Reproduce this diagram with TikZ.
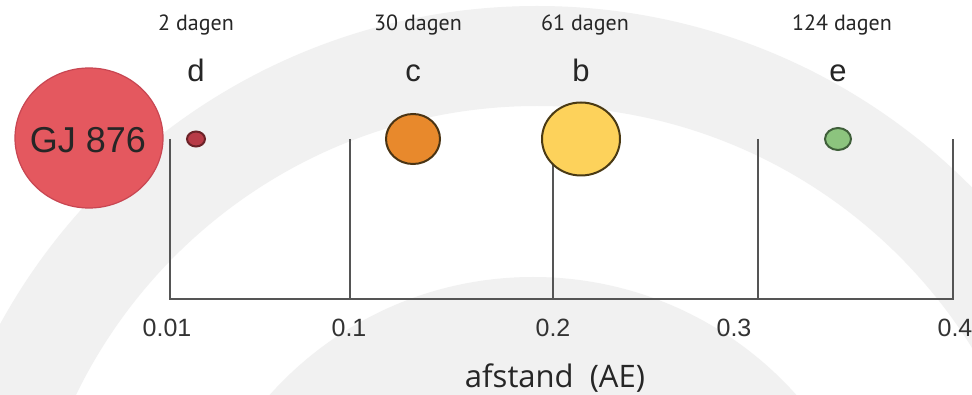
\documentclass[tikz,border=0pt]{standalone}
\usepackage{fontspec}
\setmainfont{Liberation Sans}
\newfontfamily\dagenfont{PT Sans}
\newfontfamily\afstandfont{Open Sans}
\usepackage{tikz}
\usetikzlibrary{positioning,shapes.geometric,calc}
\definecolor{bandgray}{RGB}{241,241,241}
\definecolor{axisgray}{RGB}{85,85,85}
\definecolor{starfill}{RGB}{228,88,95}
\definecolor{stardraw}{RGB}{200,70,82}
\definecolor{dfill}{RGB}{184,59,71}
\definecolor{ddraw}{RGB}{107,34,40}
\definecolor{cfill}{RGB}{232,137,44}
\definecolor{cdraw}{RGB}{74,52,20}
\definecolor{bfill}{RGB}{253,210,91}
\definecolor{bdraw}{RGB}{74,58,20}
\definecolor{efill}{RGB}{140,196,126}
\definecolor{edraw}{RGB}{63,95,58}
\tikzset{
    axisline/.style={draw=axisgray, line width=2pt},
    planet/.style={ellipse, line width=2pt, inner sep=0pt},
    ticklabel/.style={anchor=base, text=black!80, font=\fontsize{25}{25}\selectfont},
    planetname/.style={anchor=base, text=black!85, font=\fontsize{31}{31}\selectfont},
    period/.style={anchor=base, text=black!85, font=\dagenfont\fontsize{22}{22}\selectfont},
}

\begin{document}
\begin{tikzpicture}[x=1pt, y=-1pt]
    \useasboundingbox (0,0) rectangle (972,395);
    \fill[white] (0,0) rectangle (972,395);
    \begin{scope}
        \clip (0,0) rectangle (972,395);
        \fill[bandgray, even odd rule] (537,618) circle[radius=612pt] (537,618) circle[radius=512pt];
        \fill[bandgray] (533,630) circle[radius=353pt];
    \end{scope}

    \node[ellipse, fill=starfill, draw=stardraw, line width=1.2pt, minimum width=148pt, minimum height=140pt, inner sep=0pt] (star) at (89,138) {};
    \node[text=black!85, font=\fontsize{36}{36}\selectfont] (starname) at (88,140) {GJ 876};

    \foreach[count=\i] \tx/\tl/\lx in {170/0.01/167, 350/0.1/349, 553/0.2/553, 758/0.3/734, 953/0.4/955} {
        \coordinate (t-\i) at (\tx,139);
        \coordinate (a-\i) at (\tx,299);
        \node[ticklabel] (l-\i) at (\lx,337) {\tl};
    }
    \draw[axisline] (t-1) -- (a-1) -- (a-5) -- (t-5);
    \foreach \i in {2,3,4} {
        \draw[axisline] (t-\i) -- (a-\i);
    }

    \foreach \pn/\px/\rx/\ry/\days/\dx in {d/196/9/7.5/2/196, c/413/27/25/30/418, b/581/39/36.5/61/585, e/838/13/11/124/842} {
        \node[planet, fill=\pn fill, draw=\pn draw, minimum width=\rx*2pt, minimum height=\ry*2pt] (p-\pn) at (\px,139) {};
        \node[planetname] (n-\pn) at (\px,82) {\pn};
        \node[period] (per-\pn) at (\dx,31) {\days\ dagen};
    }

    \node[anchor=base, text=black!85, font=\afstandfont\fontsize{31}{31}\selectfont] (afstand) at (555,387) {afstand\ \ (AE)};
\end{tikzpicture}
\end{document}
